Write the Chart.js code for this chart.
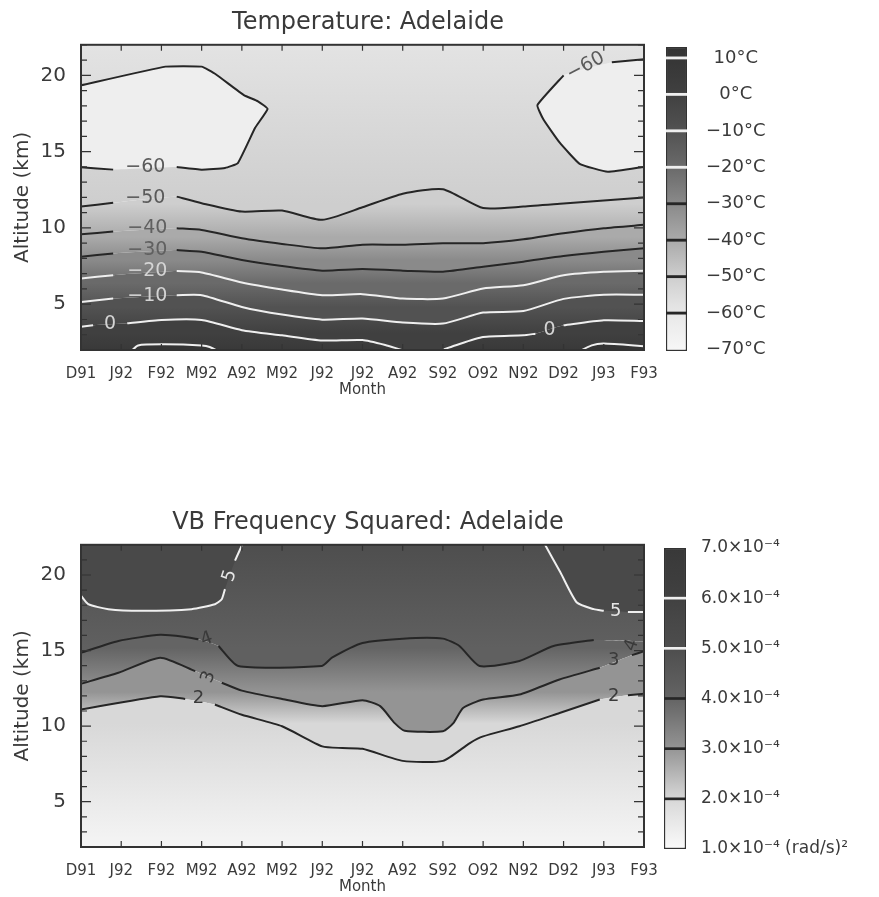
<!DOCTYPE html>
<html>
<head>
<meta charset="utf-8">
<script src="https://cdn.jsdelivr.net/npm/chart.js@4.4.1/dist/chart.umd.min.js"></script>
<style>
  html, body { margin: 0; padding: 0; background: #fff; overflow: hidden; }
  .box { position: absolute; }
</style>
</head>
<body>
<div class="box" style="left:0;top:0;width:736px;height:400px"><canvas id="tempChart"></canvas></div>
<div class="box" style="left:650px;top:0;width:229px;height:400px"><canvas id="tempBar"></canvas></div>
<div class="box" style="left:0;top:500px;width:736px;height:397px"><canvas id="vbChart"></canvas></div>
<div class="box" style="left:650px;top:500px;width:229px;height:397px"><canvas id="vbBar"></canvas></div>
<script>
// month axis and altitude ticks
const months = ["D91", "J92", "F92", "M92", "A92", "M92", "J92", "J92", "A92", "S92", "O92", "N92", "D92", "J93", "F93"];
const altTicks = [5, 10, 15, 20];

// temperature contours: [month index, altitude km], null = gap left for the label
const tempC10West = [[1.2, 1.8], [1.42, 2.3], [2.09, 2.37], [3, 2.3], [3.2, 2.2], [3.5, 1.8]];
const tempC10East = [[12.3, 1.8], [12.7, 2.3], [13, 2.42], [14, 2.25]];
const tempC0 = [[0, 3.52], [0.3, 3.62], [0.72, null], [1.15, 3.75], [2, 3.97], [3, 3.97], [4, 3.3], [5, 2.96], [6, 2.62], [7, 2.65], [7.6, 2.3], [8.2, 1.85], [8.8, 1.85], [9.3, 2.3], [10, 2.85], [11, 2.96], [11.3, 3.07], [11.65, null], [12, 3.62], [13, 3.95], [14, 3.9]];
const tempCm10 = [[0, 5.15], [0.8, 5.37], [1.6, null], [2.38, 5.59], [3, 5.59], [4, 4.82], [5, 4.32], [6, 3.99], [7, 4.06], [8, 3.8], [9, 3.73], [10, 4.45], [11, 4.55], [12, 5.35], [13, 5.62], [14, 5.62]];
const tempCm20 = [[0, 6.69], [0.8, 6.9], [1.6, null], [2.38, 7.17], [3, 7.08], [4, 6.42], [5, 5.96], [6, 5.59], [7, 5.66], [8, 5.37], [9, 5.37], [10, 6.03], [11, 6.25], [12, 6.9], [13, 7.13], [14, 7.19]];
const tempCm30 = [[0, 8.11], [0.8, 8.33], [1.6, null], [2.38, 8.55], [3, 8.44], [4, 7.9], [5, 7.5], [6, 7.2], [7, 7.3], [8, 7.2], [9, 7.13], [10, 7.46], [11, 7.79], [12, 8.16], [13, 8.44], [14, 8.66]];
const tempCm40 = [[0, 9.58], [0.8, 9.76], [1.6, null], [2.38, 9.98], [3, 9.87], [4, 9.32], [5, 8.95], [6, 8.66], [7, 8.9], [8, 8.9], [9, 9.0], [10, 9.0], [11, 9.25], [12, 9.65], [13, 9.98], [14, 10.2]];
const tempCm50 = [[0, 11.4], [0.8, 11.65], [1.6, null], [2.38, 12.05], [3, 11.62], [4, 11.07], [5, 11.14], [6, 10.53], [7, 11.35], [8, 12.24], [9, 12.54], [10, 11.3], [11, 11.4], [12, 11.6], [13, 11.8], [14, 12.0]];
const tempCm60West = [[0, 19.34], [2.1, 20.57], [3, 20.57], [3.35, 20.07], [4.05, 18.7], [4.4, 18.3], [4.64, 17.8], [4.33, 16.56], [3.9, 14.25], [3.58, 13.93], [3, 13.82], [2.38, 13.99], [1.6, null], [0.8, 13.82], [0, 13.97]];
const tempCm60East = [[14, 21.05], [13.2, 20.85], [12.6, null], [12.0, 20.0], [11.35, 18.05], [11.5, 17.1], [11.9, 15.6], [12.4, 14.2], [13.1, 13.68], [14, 14.0]];

const tempLabelText = ["\u221260", "\u221250", "\u221240", "\u221230", "\u221220", "\u221210", "0", "0", "\u221260"];
const tempLabelAt = [[1.6, 14.0], [1.6, 11.95], [1.65, 10.0], [1.65, 8.55], [1.65, 7.15], [1.65, 5.55], [0.72, 3.7], [11.65, 3.3], [12.55, 20.6]];

// VB frequency squared contours (x1e-4 (rad/s)^2)
const vbC2 = [[0, 11.1], [1.97, 11.98], [2.59, 11.8], [2.95, null], [3.33, 11.43], [4, 10.75], [5, 9.99], [6, 8.66], [6.5, 8.55], [7, 8.5], [8, 7.7], [9, 7.7], [9.67, 8.88], [10, 9.32], [10.9, 9.99], [11.9, 10.87], [12.9, 11.76], [13.25, null], [13.6, 12.05], [14, 12.15]];
const vbC3 = [[0, 12.8], [0.93, 13.53], [1.97, 14.53], [2.84, 13.64], [3.17, null], [3.5, 12.87], [4, 12.35], [5, 11.8], [6, 11.32], [7, 11.72], [7.44, 11.32], [7.8, 10.2], [8.05, 9.7], [9, 9.66], [9.26, 10.2], [9.5, 11.2], [10, 11.76], [10.9, 12.09], [11.9, 13.09], [12.9, 13.86], [13.25, null], [13.7, 14.7], [14, 14.95]];
const vbC4 = [[0, 14.86], [0.93, 15.64], [1.97, 16.04], [2.59, 15.9], [2.92, 15.75], [3.15, null], [3.42, 15.3], [3.91, 13.98], [5.99, 13.98], [6.24, 14.53], [7, 15.5], [8, 15.79], [9, 15.79], [9.41, 15.3], [9.91, 13.98], [10.9, 14.31], [11.75, 15.3], [12.75, 15.7], [13.6, null], [14, 15.6]];
const vbC5West = [[0, 18.63], [0.18, 18.07], [0.68, 17.74], [1.5, 17.63], [2.75, 17.74], [3.33, 18.07], [3.5, 18.4], [3.58, 19.07], [3.7, null], [3.83, 20.95], [4.04, 22.2]];
const vbC5East = [[11.5, 22.2], [11.55, 21.95], [11.92, 20.18], [12.33, 18.18], [12.75, 17.74], [13.0, 17.63], [13.3, null], [13.6, 17.56], [14, 17.56]];

const vbLabelText = ["5", "4", "3", "2", "5", "4", "3", "2"];
const vbLabelAt = [[3.7, 19.95], [3.13, 15.75], [3.17, 13.25], [2.92, 11.85], [13.3, 17.63], [13.7, 15.35], [13.25, 14.35], [13.25, 12.0]];

// colour bars
const tempBarTicks = [10, 0, -10, -20, -30, -40, -50, -60, -70];
const tempBarLabels = ["10\u00b0C", "0\u00b0C", "\u221210\u00b0C", "\u221220\u00b0C", "\u221230\u00b0C", "\u221240\u00b0C", "\u221250\u00b0C", "\u221260\u00b0C", "\u221270\u00b0C"];
const tempBarLevels = [10, 0, -10, -20, -30, -40, -50, -60];
const vbBarTicks = [7, 6, 5, 4, 3, 2, 1];
const vbBarLabels = ["7.0\u00d710\u207b\u2074", "6.0\u00d710\u207b\u2074", "5.0\u00d710\u207b\u2074", "4.0\u00d710\u207b\u2074", "3.0\u00d710\u207b\u2074", "2.0\u00d710\u207b\u2074", "1.0\u00d710\u207b\u2074 (rad/s)\u00b2"];
const vbBarLevels = [6, 5, 4, 3, 2];

Chart.defaults.font.family = "'DejaVu Sans', sans-serif";
Chart.defaults.color = "#3a3a3a";

const DARK = "#262626";
const WHITE = "#efefef";

// grey ramps for the shading
function grayRamp(stops) {
  return function (v) {
    let g = stops[0][1];
    if (v >= stops[stops.length - 1][0]) g = stops[stops.length - 1][1];
    else {
      for (let i = 0; i < stops.length - 1; i++) {
        const a = stops[i], b = stops[i + 1];
        if (v >= a[0] && v <= b[0]) { g = a[1] + (b[1] - a[1]) * (v - a[0]) / (b[0] - a[0]); break; }
      }
    }
    g = Math.round(g);
    return "rgb(" + g + "," + g + "," + g + ")";
  };
}
const tempGray = grayRamp([[-70, 247], [-60, 232], [-50, 206], [-40, 170], [-30, 138], [-20, 106], [-10, 82], [0, 64], [10, 54], [20, 46]]);
const vbGray = grayRamp([[1, 250], [2, 216], [3, 148], [4, 100], [5, 78], [6, 65], [7, 56]]);

function meanAlt(pts) {
  const v = pts.filter(p => p[1] !== null).map(p => p[1]);
  return v.reduce((a, b) => a + b, 0) / v.length;
}

// vertical gradient between two contours (null = plot edge)
function bandFill(cmap, lowPts, vLow, highPts, vHigh) {
  return function (ctx) {
    const chart = ctx.chart, area = chart.chartArea;
    if (!area) return cmap(vLow);
    const y = chart.scales.y;
    const y0 = lowPts ? y.getPixelForValue(meanAlt(lowPts)) : area.bottom;
    const y1 = highPts ? y.getPixelForValue(meanAlt(highPts)) : area.top;
    const g = chart.ctx.createLinearGradient(0, y0, 0, y1);
    g.addColorStop(0, cmap(vLow));
    g.addColorStop(1, cmap(vHigh));
    return g;
  };
}

function toXY(pts) { return pts.map(p => ({ x: p[0], y: p[1] })); }
function solid(pts) { return toXY(pts.filter(p => p[1] !== null)); }

function fillSet(pts, fill, color, order, tension) {
  return { data: solid(pts), fill: fill, backgroundColor: color, borderColor: "rgba(0,0,0,0)", borderWidth: 0,
    pointRadius: 0, tension: tension === undefined ? 0.2 : tension, order: order, clip: 0 };
}
function lineSet(pts, color, tension) {
  return { data: toXY(pts), fill: false, borderColor: color, borderWidth: 2, pointRadius: 0,
    tension: tension === undefined ? 0.2 : tension, order: 1, clip: 0 };
}

// frame, inward ticks and contour labels
function framePlugin(labels, size) {
  return {
    id: "frame",
    afterDatasetsDraw(chart) {
      const { ctx, chartArea: a, scales: { x, y } } = chart;
      ctx.save();
      ctx.font = size + "px 'DejaVu Sans'";
      ctx.textAlign = "center";
      ctx.textBaseline = "middle";
      labels.forEach(l => {
        ctx.save();
        ctx.translate(x.getPixelForValue(l.x), y.getPixelForValue(l.y));
        ctx.rotate(l.rot * Math.PI / 180);
        ctx.fillStyle = l.color;
        ctx.fillText(l.text, 0, 0);
        ctx.restore();
      });
      ctx.strokeStyle = "#333";
      ctx.lineWidth = 1.2;
      ctx.beginPath();
      x.ticks.forEach(t => {
        const px = x.getPixelForValue(t.value);
        ctx.moveTo(px, a.top); ctx.lineTo(px, a.top + 6);
        ctx.moveTo(px, a.bottom); ctx.lineTo(px, a.bottom - 6);
      });
      for (let v = Math.ceil(y.min); v <= y.max; v++) {
        const py = y.getPixelForValue(v);
        const len = v % 5 === 0 ? 10 : 6;
        ctx.moveTo(a.left, py); ctx.lineTo(a.left + len, py);
        ctx.moveTo(a.right, py); ctx.lineTo(a.right - len, py);
      }
      ctx.stroke();
      ctx.lineWidth = 2;
      ctx.strokeRect(a.left, a.top, a.right - a.left, a.bottom - a.top);
      ctx.restore();
    }
  };
}

function contourChart(id, title, datasets, labels, labelSize) {
  return new Chart(document.getElementById(id), {
    type: "line",
    data: { datasets: datasets },
    options: {
      responsive: true,
      maintainAspectRatio: false,
      animation: false,
      events: [],
      layout: { padding: 0 },
      plugins: {
        legend: { display: false },
        tooltip: { enabled: false },
        title: { display: true, text: title, font: { size: 24, weight: "normal" }, color: "#3a3a3a", padding: { top: 8, bottom: 8 } }
      },
      scales: {
        x: {
          type: "linear", min: 0, max: 14,
          grid: { display: false }, border: { display: false },
          afterBuildTicks: s => { s.ticks = months.map((m, i) => ({ value: i })); },
          afterFit: s => { s.height = 50; },
          ticks: { autoSkip: false, maxRotation: 0, padding: 7, font: { size: 15 }, callback: v => months[v] },
          title: { display: true, text: "Month", font: { size: 15 }, padding: { top: 0, bottom: 1 } }
        },
        y: {
          type: "linear", min: 2, max: 22,
          grid: { display: false }, border: { display: false },
          afterBuildTicks: s => { s.ticks = altTicks.map(v => ({ value: v })); },
          afterFit: s => { s.width = 81; },
          ticks: { padding: 7, font: { size: 20 } },
          title: { display: true, text: "Altitude (km)", font: { size: 20 }, padding: { top: 11, bottom: 0 } }
        },
        yr: {
          type: "linear", position: "right",
          grid: { display: false }, border: { display: false }, ticks: { display: false },
          afterFit: s => { s.width = 92; }
        }
      }
    },
    plugins: [framePlugin(labels, labelSize)]
  });
}

function colorBar(id, o) {
  const barGradient = c => {
    const chart = c.chart;
    if (!chart.chartArea) return o.cmap(o.min);
    const y = chart.scales.y;
    const g = chart.ctx.createLinearGradient(0, y.getPixelForValue(o.min), 0, y.getPixelForValue(o.max));
    for (let k = 0; k <= 20; k++) g.addColorStop(k / 20, o.cmap(o.min + (o.max - o.min) * k / 20));
    return g;
  };
  const sets = [{ data: [[o.min, o.max]], backgroundColor: barGradient, borderColor: "#333", borderWidth: 1.5, borderSkipped: false, order: 2 }];
  o.levels.forEach(v => {
    sets.push({ data: [[v - o.markHalf, v + o.markHalf]], backgroundColor: o.markColor(v), borderWidth: 0, order: 1 });
  });
  return new Chart(document.getElementById(id), {
    type: "bar",
    data: { labels: [""], datasets: sets },
    options: {
      responsive: true,
      maintainAspectRatio: false,
      animation: false,
      events: [],
      layout: { padding: { left: o.padLeft, top: o.padTop, bottom: o.padBottom, right: 0 } },
      datasets: { bar: { grouped: false, barPercentage: 1, categoryPercentage: 1 } },
      plugins: { legend: { display: false }, tooltip: { enabled: false } },
      scales: {
        x: { display: false },
        y: {
          position: "right", min: o.min, max: o.max,
          grid: { display: false }, border: { display: false },
          afterBuildTicks: s => { s.ticks = o.ticks.map(v => ({ value: v })); },
          afterFit: s => { s.width = o.axisWidth; },
          ticks: { padding: o.tickPad, crossAlign: o.align, font: { size: o.fontSize }, callback: (v, i) => o.tickLabels[i] }
        }
      }
    }
  });
}

// ---- temperature panel ----
const tBounds = [tempC0, tempCm10, tempCm20, tempCm30, tempCm40, tempCm50];
const tLevels = [0, -10, -20, -30, -40, -50];
const tSets = [fillSet(tempC0, "start", bandFill(tempGray, null, 7, tempC0, 0), 30)];
for (let k = 1; k < tBounds.length; k++) {
  tSets.push(fillSet(tBounds[k], k - 1, bandFill(tempGray, tBounds[k - 1], tLevels[k - 1], tBounds[k], tLevels[k]), 30));
}
tSets.push(fillSet(tempCm50, "end", bandFill(tempGray, tempCm50, -50, null, -58), 30));
tSets.push(fillSet(tempCm60West, "shape", tempGray(-64), 20, 0.12));
tSets.push(fillSet(tempCm60East, "shape", tempGray(-64), 20, 0.12));
tSets.push(fillSet(tempC10West, "start", tempGray(12), 20));
tSets.push(fillSet(tempC10East, "start", tempGray(12), 20));
[tempCm60West, tempCm60East].forEach(p => tSets.push(lineSet(p, DARK, 0.12)));
[tempCm50, tempCm40, tempCm30].forEach(p => tSets.push(lineSet(p, DARK)));
[tempCm20, tempCm10, tempC0, tempC10West, tempC10East].forEach(p => tSets.push(lineSet(p, WHITE)));

const tempLabelRot = [0, 0, 0, 0, 0, 0, 0, 0, -28];
const tempLabelTone = ["#5a5a5a", "#5a5a5a", "#606060", "#606060", "#d4d4d4", "#d4d4d4", "#d4d4d4", "#d4d4d4", "#5a5a5a"];
const tempLabels = tempLabelText.map((t, i) => ({ text: t, x: tempLabelAt[i][0], y: tempLabelAt[i][1], rot: tempLabelRot[i], color: tempLabelTone[i] }));

contourChart("tempChart", "Temperature: Adelaide", tSets, tempLabels, 19);

// ---- VB frequency panel ----
const vBounds = [vbC2, vbC3, vbC4];
const vLevels = [2, 3, 4];
const vSets = [fillSet(vbC2, "start", bandFill(vbGray, null, 1.15, vbC2, 2), 30)];
for (let k = 1; k < vBounds.length; k++) {
  vSets.push(fillSet(vBounds[k], k - 1, bandFill(vbGray, vBounds[k - 1], vLevels[k - 1], vBounds[k], vLevels[k]), 30));
}
vSets.push(fillSet(vbC4, "end", bandFill(vbGray, vbC4, 4.2, null, 5.0), 30));
vSets.push(fillSet(vbC5West, "end", vbGray(5.4), 20));
vSets.push(fillSet(vbC5East, "end", vbGray(5.4), 20));
[vbC2, vbC3, vbC4].forEach(p => vSets.push(lineSet(p, DARK)));
[vbC5West, vbC5East].forEach(p => vSets.push(lineSet(p, WHITE)));

const vbLabelRot = [-72, -20, -70, 0, 0, -70, 0, 0];
const vbLabelTone = ["#e6e6e6", "#3a3a3a", "#3a3a3a", "#3a3a3a", "#e6e6e6", "#3a3a3a", "#3a3a3a", "#3a3a3a"];
const vbLabels = vbLabelText.map((t, i) => ({ text: t, x: vbLabelAt[i][0], y: vbLabelAt[i][1], rot: vbLabelRot[i], color: vbLabelTone[i] }));

contourChart("vbChart", "VB Frequency Squared: Adelaide", vSets, vbLabels, 18);

// ---- colour bars ----
colorBar("tempBar", {
  min: -70.4, max: 13, cmap: tempGray, ticks: tempBarTicks, tickLabels: tempBarLabels,
  levels: tempBarLevels, markHalf: 0.3, markColor: v => (v >= -20 ? WHITE : DARK),
  padLeft: 16, padTop: 47, padBottom: 49, axisWidth: 192, tickPad: 11, align: "center", fontSize: 18
});
colorBar("vbBar", {
  min: 1, max: 7, cmap: vbGray, ticks: vbBarTicks, tickLabels: vbBarLabels,
  levels: vbBarLevels, markHalf: 0.02, markColor: v => (v >= 5 ? WHITE : DARK),
  padLeft: 14, padTop: 48, padBottom: 48, axisWidth: 193, tickPad: 7, align: "near", fontSize: 17
});
</script>
</body>
</html>
